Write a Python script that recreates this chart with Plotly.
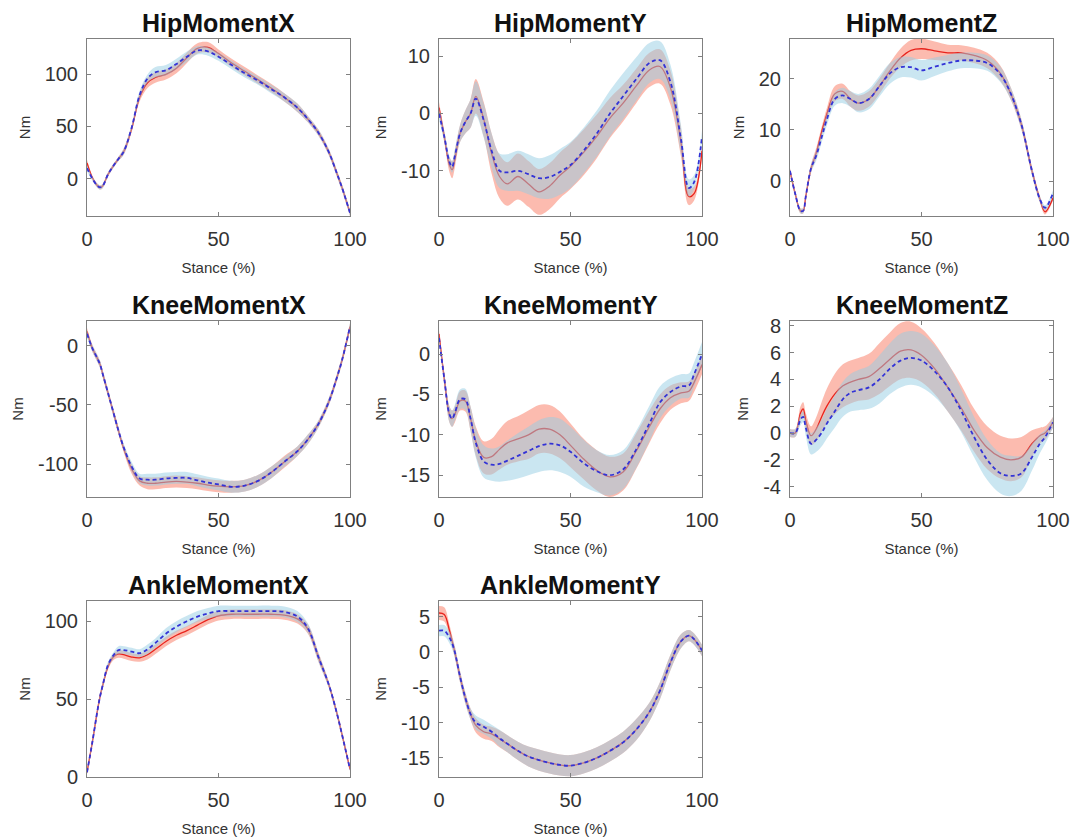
import plotly.graph_objects as go

STANCE = [0, 2, 4, 5, 6, 8, 10, 12, 14, 17, 20, 23, 26, 30, 34, 38, 42, 46, 50, 55, 60, 65, 70, 75, 80, 84, 88, 92, 95, 97, 100]

TITLES = ["HipMomentX", "HipMomentY", "HipMomentZ", "KneeMomentX", "KneeMomentY", "KneeMomentZ", "AnkleMomentX", "AnkleMomentY"]

# HipMomentX
hipx_red = [15, 1, -7, -8.5, -7, 4, 12, 19, 26, 48, 78, 92, 97, 100, 106, 116, 125, 126, 120, 111, 103, 95, 87, 78, 68, 57, 44, 25, 5, -9, -33]
hipx_red_sd = [3, 2, 2, 2, 2, 2, 2, 2, 3, 3, 4, 5, 5, 5, 5, 5, 5, 5, 4, 4, 4, 4, 4, 4, 4, 3, 3, 3, 3, 3, 3]
hipx_blue = [10, 0, -7, -8.5, -7, 4, 12, 19, 26, 49, 80, 96, 102, 104, 110, 117, 123, 122, 117, 109, 101, 94, 86, 78, 68, 57, 44, 25, 5, -9, -33]
hipx_blue_sd = [3, 2, 2, 2, 2, 2, 2, 2, 3, 3, 4, 4, 5, 5, 5, 5, 4, 4, 4, 4, 4, 4, 4, 4, 4, 3, 3, 3, 3, 3, 3]

# HipMomentY
hipy_red = [1, -4, -9, -9.8, -8, -3.5, -1.5, 0, 3, -1, -7, -11, -12.3, -11, -12.3, -13.7, -12.7, -10.8, -9.2, -6.8, -4, -0.8, 1.8, 4.8, 7.6, 8.2, 4.5, -5, -14.5, -14, -6.5]
hipy_red_sd = [1, 1, 1.3, 1.5, 1.5, 1.5, 2, 2.5, 3, 3, 3.5, 3.8, 3.8, 4, 4, 4, 4, 4, 4, 4, 3.8, 3.5, 3.2, 3, 3, 3, 3, 2.5, 1.5, 1.2, 1]
hipy_blue = [0, -4, -8.5, -9.3, -7.5, -3.5, -1.5, 0, 2.6, -1.2, -6.5, -10, -10.3, -10, -10.6, -11.3, -11.1, -10.2, -9, -6.5, -3.5, 0, 3, 6, 8.8, 9.3, 5.5, -4.5, -13, -12, -4]
hipy_blue_sd = [1, 1, 1, 1, 1.2, 1.5, 2, 2.5, 3, 3, 3, 3, 3.2, 3.5, 3.5, 3.5, 3.8, 4, 4, 4, 4, 4, 4, 3.8, 3.5, 3.3, 3, 2.5, 1.5, 1.2, 1]

# HipMomentZ
hipz_red = [2, -2.5, -5.8, -5.8, -3, 2.5, 5.5, 9.5, 13, 17, 17.5, 16, 15.2, 16, 18.5, 21.5, 24, 25.5, 25.8, 25.4, 25, 25, 24.5, 23.5, 21, 17, 11, 2, -3.5, -6, -3.3]
hipz_red_sd = [0.5, 0.5, 0.5, 0.5, 0.6, 0.8, 1, 1, 1.2, 1.5, 1.5, 1.5, 1.5, 1.5, 1.5, 1.5, 1.8, 2, 2, 1.8, 1.6, 1.5, 1.5, 1.5, 1.5, 1.2, 1, 0.8, 0.6, 0.5, 0.5]
hipz_blue = [2, -2.5, -5.8, -5.8, -3, 2.5, 5, 8.5, 12, 16, 16.7, 16, 15.2, 16, 18.5, 21, 22.2, 22.2, 21.6, 22.3, 23, 23.5, 23.5, 23, 20.8, 17, 11, 2, -3.5, -5.2, -2.3]
hipz_blue_sd = [0.5, 0.5, 0.5, 0.5, 0.6, 0.8, 1, 1, 1.2, 1.3, 1.5, 1.5, 1.8, 2, 2, 2, 2, 2, 2, 1.8, 1.6, 1.5, 1.5, 1.5, 1.5, 1.2, 1, 0.8, 0.6, 0.5, 0.5]

# KneeMomentX
kneex_red = [12, -2, -11, -16, -24, -40, -56, -72, -87, -104, -114, -116, -116, -115, -114.5, -115, -116, -117.5, -118.5, -119, -118, -114, -107, -98, -89, -79, -66, -47, -27, -12, 16]
kneex_red_sd = [3, 3, 3, 3, 3, 3, 3, 3, 3, 4, 4, 5, 5, 5, 5, 5, 5, 5, 5, 5, 5, 5, 5, 5, 4, 4, 3, 3, 3, 3, 3]
kneex_blue = [10, -2, -11, -16, -24, -40, -56, -72, -86, -102, -112, -113, -113, -112, -111.5, -111.5, -113.5, -115.5, -117, -119, -118, -114, -107, -98, -89, -79, -66, -47, -27, -12, 16]
kneex_blue_sd = [3, 3, 3, 3, 3, 3, 3, 3, 3, 4, 4, 5, 5, 5, 5, 5, 5, 5, 5, 5, 5, 5, 5, 4, 4, 4, 3, 3, 3, 3, 3]

# KneeMomentY
kneey_red = [2.5, -3, -7.5, -8, -7.5, -5.8, -5.8, -8, -10.8, -12.8, -12.7, -11.8, -11, -10.5, -10, -9.3, -9.3, -10, -11.3, -13, -14.4, -15.2, -14.6, -12, -9, -6.8, -5.4, -4.8, -4.6, -3.5, -1.3]
kneey_red_sd = [0.5, 0.7, 1, 1, 1, 1.2, 1.3, 1.5, 1.8, 2, 2.2, 2.5, 2.7, 2.8, 3, 3, 3, 2.9, 2.7, 2.5, 2.5, 2.5, 2.3, 2.2, 2, 1.8, 1.5, 1.3, 1.2, 1.2, 1.2]
kneey_blue = [2, -3, -7.5, -8, -7.3, -5.6, -5.6, -8, -11, -13.3, -13.7, -13.6, -13.2, -12.6, -12, -11.4, -11.1, -11.3, -12.1, -13.5, -14.5, -15, -14.3, -11.8, -8.6, -6, -4.7, -4, -3.9, -2.5, 0]
kneey_blue_sd = [0.5, 0.7, 1, 1, 1, 1.2, 1.3, 1.5, 1.8, 2, 2, 2.2, 2.5, 2.8, 3, 3.2, 3.3, 3.3, 3.1, 2.9, 2.6, 2.5, 2.4, 2.3, 2.2, 2, 1.7, 1.5, 1.5, 1.5, 1.5]

# KneeMomentZ
kneez_red = [0, 0, 1.5, 1.8, 0.9, -0.2, 0.3, 1.2, 2, 2.9, 3.5, 3.8, 4, 4.2, 4.8, 5.5, 6.1, 6.2, 5.8, 4.8, 3.4, 1.9, 0.2, -1.1, -1.8, -2, -1.8, -0.8, -0.2, 0, 0.8]
kneez_red_sd = [0.3, 0.3, 0.5, 0.5, 0.6, 0.7, 0.9, 1.1, 1.3, 1.5, 1.6, 1.6, 1.6, 1.7, 1.9, 2, 2.1, 2.1, 2, 1.9, 1.8, 1.7, 1.6, 1.6, 1.6, 1.6, 1.5, 1, 0.6, 0.5, 0.4]
kneez_blue = [0, 0, 1, 1.2, 0.4, -0.8, -0.5, 0, 0.7, 1.6, 2.5, 3, 3.2, 3.4, 4, 4.8, 5.4, 5.6, 5.4, 4.6, 3.4, 1.7, -0.3, -2, -3, -3.2, -3, -1.8, -0.8, -0.3, 0.8]
kneez_blue_sd = [0.3, 0.3, 0.4, 0.4, 0.6, 0.8, 0.9, 1, 1.1, 1.2, 1.3, 1.4, 1.5, 1.6, 1.8, 1.9, 2, 2, 2, 1.9, 1.8, 1.6, 1.5, 1.5, 1.5, 1.5, 1.3, 1, 0.7, 0.5, 0.4]

# AnkleMomentX
anklex_red = [3, 22, 43, 52, 59, 71, 77, 79, 78.5, 77, 76.5, 78.5, 82, 87, 91, 94, 97.5, 101, 103.5, 104.5, 104.5, 104.5, 104.5, 104, 101.5, 95, 77, 59, 41, 27, 5]
anklex_red_sd = [1, 2, 2, 2, 2, 2, 2, 2.5, 2.5, 2.5, 2.5, 3, 3, 3, 3, 3, 3, 3, 3, 3, 3, 3, 3, 3, 3, 3, 3, 2, 2, 2, 1]
anklex_blue = [3, 22, 43, 52, 59, 72, 78, 81.5, 81.5, 80.5, 79.5, 82, 86, 92, 96.5, 100, 103, 105, 106.5, 106.5, 106.5, 106.5, 106.5, 106, 103, 95.5, 77, 59, 41, 27, 5]
anklex_blue_sd = [1, 2, 2, 2, 2, 2, 2, 2.5, 2.5, 2.5, 2.5, 3, 3, 3.5, 3.5, 3.5, 3.5, 3.5, 3.5, 3.5, 3.5, 3.5, 3.5, 3.5, 3.5, 3, 3, 2, 2, 2, 1]

# AnkleMomentY
ankley_red = [5.5, 5.3, 3, 1.5, 0, -3.5, -6.5, -8.8, -10.4, -11.3, -11.6, -12.3, -13, -14, -14.8, -15.3, -15.7, -16, -16.1, -15.7, -15, -14, -12.8, -11, -8.5, -5.5, -1.5, 1.5, 2.3, 1.8, 0.2]
ankley_red_sd = [1, 1, 0.8, 0.8, 0.8, 0.8, 0.8, 0.8, 1, 1, 1, 1.2, 1.2, 1.3, 1.4, 1.5, 1.5, 1.5, 1.5, 1.5, 1.5, 1.5, 1.5, 1.5, 1.3, 1.2, 1.1, 1, 0.8, 0.8, 0.8]
ankley_blue = [3, 3, 2, 1.2, 0, -3.5, -6.5, -8.8, -10, -10.6, -11.3, -12.2, -13, -14, -14.8, -15.3, -15.7, -16, -16.1, -15.7, -15, -14, -12.8, -11, -8.5, -5.5, -1.5, 1.5, 2.3, 1.8, 0.2]
ankley_blue_sd = [0.8, 0.8, 0.8, 0.8, 0.8, 0.8, 0.8, 0.8, 1, 1, 1, 1.2, 1.2, 1.3, 1.4, 1.5, 1.5, 1.5, 1.5, 1.5, 1.5, 1.5, 1.5, 1.5, 1.3, 1.2, 1.1, 1, 0.8, 0.8, 0.8]

Y_RANGES = [[-36, 134], [-17.9, 13], [-6.8, 27.7], [-127.6, 20.8], [-17.7, 4.1], [-4.77, 8.35], [0, 113], [-17.7, 7.2]]
Y_TICKS = [[0, 50, 100], [-10, 0, 10], [0, 10, 20], [-100, -50, 0], [-15, -10, -5, 0], [-4, -2, 0, 2, 4, 6, 8], [0, 50, 100], [-15, -10, -5, 0, 5]]
X_TICKS = [0, 50, 100]

PANELS = [
    (hipx_red, hipx_red_sd, hipx_blue, hipx_blue_sd),
    (hipy_red, hipy_red_sd, hipy_blue, hipy_blue_sd),
    (hipz_red, hipz_red_sd, hipz_blue, hipz_blue_sd),
    (kneex_red, kneex_red_sd, kneex_blue, kneex_blue_sd),
    (kneey_red, kneey_red_sd, kneey_blue, kneey_blue_sd),
    (kneez_red, kneez_red_sd, kneez_blue, kneez_blue_sd),
    (anklex_red, anklex_red_sd, anklex_blue, anklex_blue_sd),
    (ankley_red, ankley_red_sd, ankley_blue, ankley_blue_sd),
]

W, H = 1073, 838
COL_X = [(87, 350), (439, 702), (790, 1053)]
ROW_Y = [(39, 216), (321, 497), (601, 777)]

RED_LINE = "#e8231c"
RED_FILL = "rgba(250,120,95,0.5)"
BLUE_LINE = "#3333d6"
BLUE_FILL = "rgba(150,205,228,0.5)"
AX_COLOR = "#808080"
TXT = "#333333"
FONT = "Liberation Sans, Arial, sans-serif"

fig = go.Figure()
annotations = []

for i, (r, rsd, b, bsd) in enumerate(PANELS):
    k = i + 1
    xa = "x" if k == 1 else f"x{k}"
    ya = "y" if k == 1 else f"y{k}"
    common = dict(xaxis=xa, yaxis=ya, showlegend=False, hoverinfo="skip")
    r_lo = [m - s for m, s in zip(r, rsd)]
    r_hi = [m + s for m, s in zip(r, rsd)]
    b_lo = [m - s for m, s in zip(b, bsd)]
    b_hi = [m + s for m, s in zip(b, bsd)]
    fig.add_trace(go.Scatter(x=STANCE, y=r_lo, mode="lines", line=dict(width=0, shape="spline"), **common))
    fig.add_trace(go.Scatter(x=STANCE, y=r_hi, mode="lines", fill="tonexty", fillcolor=RED_FILL,
                             line=dict(width=0, shape="spline"), **common))
    fig.add_trace(go.Scatter(x=STANCE, y=r, mode="lines", line=dict(color=RED_LINE, width=1.3, shape="spline"), **common))
    fig.add_trace(go.Scatter(x=STANCE, y=b_lo, mode="lines", line=dict(width=0, shape="spline"), **common))
    fig.add_trace(go.Scatter(x=STANCE, y=b_hi, mode="lines", fill="tonexty", fillcolor=BLUE_FILL,
                             line=dict(width=0, shape="spline"), **common))
    fig.add_trace(go.Scatter(x=STANCE, y=b, mode="lines",
                             line=dict(color=BLUE_LINE, width=1.8, dash="4px,3px", shape="spline"), **common))

    row, col = divmod(i, 3)
    x0, x1 = COL_X[col]
    y0, y1 = ROW_Y[row]
    xdom = [x0 / W, x1 / W]
    ydom = [1 - y1 / H, 1 - y0 / H]
    axis_common = dict(showline=True, mirror="allticks", linecolor=AX_COLOR, linewidth=1,
                       ticks="inside", ticklen=4, tickcolor=AX_COLOR, showgrid=False, zeroline=False,
                       automargin=False, ticklabeloverflow="allow",
                       tickfont=dict(family=FONT, size=20, color=TXT))
    fig.layout[f"xaxis{k if k > 1 else ''}"] = dict(
        domain=xdom, anchor=ya, range=[0, 100], tickvals=X_TICKS,
        ticktext=[str(v) for v in X_TICKS], ticklabelstandoff=5,
        title=dict(text="Stance (%)", font=dict(family=FONT, size=15, color=TXT), standoff=13),
        **axis_common)
    fig.layout[f"yaxis{k if k > 1 else ''}"] = dict(
        domain=ydom, anchor=xa, range=Y_RANGES[i], tickvals=Y_TICKS[i],
        ticktext=[str(v) for v in Y_TICKS[i]], ticklabelstandoff=4,
        title=dict(text="Nm", font=dict(family=FONT, size=15, color=TXT), standoff=10),
        **axis_common)
    annotations.append(dict(text=f"<b>{TITLES[i]}</b>", x=(xdom[0] + xdom[1]) / 2, y=ydom[1],
                            xref="paper", yref="paper", xanchor="center", yanchor="bottom",
                            yshift=0, showarrow=False, font=dict(family=FONT, size=25, color="#111111")))

fig.update_layout(width=W, height=H, margin=dict(l=0, r=0, t=0, b=0, autoexpand=False),
                  paper_bgcolor="white", plot_bgcolor="white", annotations=annotations)

# remove the default page margin so the figure sits at the window's top-left corner
fig.write_html("out.html", config={"displayModeBar": False},
               post_script="document.body.style.margin='0';document.body.style.overflow='hidden';")
